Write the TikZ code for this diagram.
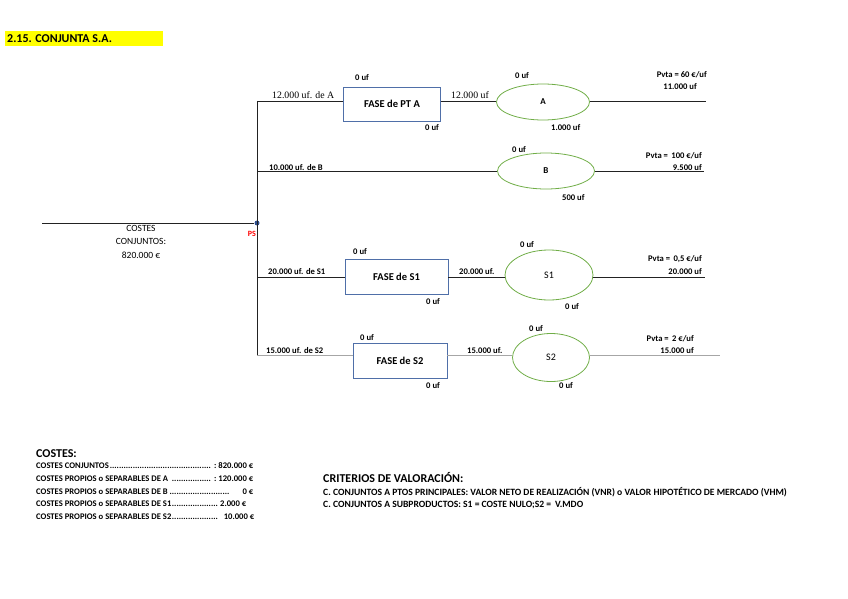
\documentclass[tikz,border=0pt]{standalone}
\usepackage{fontspec}
\setmainfont{Carlito}
\newfontfamily\serifo{Liberation Serif}
\usepackage{xcolor}
\usetikzlibrary{positioning,shapes.geometric}
\definecolor{boxc}{HTML}{4F6FA8}
\definecolor{ovalc}{HTML}{70AD47}
\definecolor{dotc}{HTML}{2F4F8F}
\definecolor{ttlbg}{HTML}{FFFF00}
\definecolor{lnc}{HTML}{222222}
\definecolor{lgray}{HTML}{A6A6A6}
\newcommand\ufsz{\fontsize{8.6}{10}\selectfont\bfseries}
\newcommand\fasesz{\fontsize{10.5}{12}\selectfont\bfseries}
\newcommand\hdsz{\fontsize{12}{14}\selectfont\bfseries}
\newcommand\dl{\leaders\hbox to 2.3pt{\hss.\hss}\hfill}
\tikzset{
  ln/.style={lnc,line width=0.6pt},
  fase/.style={draw=boxc,thick,minimum width=97pt,minimum height=34pt,inner sep=0pt,font=\fasesz},
  prod/.style={ellipse,draw=ovalc,thick,inner sep=0pt,font=\fontsize{10}{12}\selectfont},
  lbl/.style={font=\ufsz,inner sep=0pt,anchor=base west},
  rlbl/.style={font=\ufsz,inner sep=0pt,anchor=base east},
  crit/.style={font=\fontsize{9.6}{11}\selectfont\bfseries,inner sep=0pt,anchor=base west},
  slbl/.style={font=\serifo\fontsize{9.8}{11}\selectfont,inner sep=0pt,anchor=base west}
}
\begin{document}
\begin{tikzpicture}[x=1pt,y=-1pt]
\useasboundingbox (0,0) rectangle (848,599);
% title
\fill[ttlbg] (5,31) rectangle (163,46);
\node[anchor=west,font=\hdsz,inner sep=0pt] (ttl) at (7,39) {2.15. CONJUNTA S.A.};
% joint costs and split-off point
\coordinate (lft) at (42,223);
\node[circle,fill=dotc,inner sep=0pt,minimum size=5pt] (ps) at (257,223) {};
\node[font=\fontsize{8}{9}\selectfont\bfseries,text=red,anchor=base east,inner sep=0pt] (pst) at (256,236) {PS};
\draw[ln] (lft) -- (ps);
\node[font=\fontsize{9.5}{13.5}\selectfont,align=center,anchor=north,inner sep=0pt] (cc) at (141,225) {COSTES\\CONJUNTOS:\\820.000 €};
\coordinate (ja) at (257,101);
\coordinate (jb) at (257,171);
\coordinate (js1) at (257,277);
\coordinate (js2) at (257,355);
\draw[ln] (ja) -- (js2);
% row A
\node[fase] (fa) at (392,104) {FASE de PT A};
\node[prod,minimum width=93pt,minimum height=36pt,font=\fontsize{9}{10}\selectfont\bfseries] (oa) at (543,102) {A};
\coordinate (ea) at (706,101);
\draw[ln] (ja) -- (ja -| fa.west);
\draw[ln] (fa.east |- ja) -- (oa.west |- ja);
\draw[ln] (oa.east |- ja) -- (ea);
\node[slbl] at (272,98.5) {12.000 uf. de A};
\node[slbl] at (451,98.5) {12.000 uf};
\node[lbl] at (355,81) {0 uf};
\node[lbl] at (425,131) {0 uf};
\node[lbl] at (515,79) {0 uf};
\node[lbl] at (551,131) {1.000 uf};
\node[rlbl] at (707,78) {Pvta = 60 €/uf};
\node[rlbl] at (697,90) {11.000 uf};
% row B
\node[prod,minimum width=97pt,minimum height=36pt,font=\fontsize{9}{10}\selectfont\bfseries] (ob) at (546,171) {B};
\coordinate (eb) at (704,171);
\draw[ln] (jb) -- (ob.west);
\draw[ln] (ob.east) -- (eb);
\node[lbl] at (269,170) {10.000 uf. de B};
\node[lbl] at (512,153) {0 uf};
\node[lbl] at (562,200) {500 uf};
\node[rlbl] at (702,158) {Pvta =\, 100 €/uf};
\node[rlbl] at (702,170) {9.500 uf};
% row S1
\node[fase,minimum width=103pt,minimum height=35pt] (fs1) at (396.5,276.5) {FASE de S1};
\node[prod,minimum width=88pt,minimum height=50pt] (os1) at (549,275) {S1};
\coordinate (es1) at (705,277);
\draw[ln] (js1) -- (js1 -| fs1.west);
\draw[ln] (fs1.east |- js1) -- (os1.west |- js1);
\draw[ln] (os1.east |- js1) -- (es1);
\node[lbl] at (268,274) {20.000 uf. de S1};
\node[lbl] at (459,274) {20.000 uf.};
\node[lbl] at (353,254) {0 uf};
\node[lbl] at (426,304) {0 uf};
\node[lbl] at (520,247) {0 uf};
\node[lbl] at (565,309) {0 uf};
\node[rlbl] at (702,261) {Pvta =\, 0,5 €/uf};
\node[rlbl] at (702,274) {20.000 uf};
% row S2
\node[fase,minimum width=94pt,minimum height=35pt] (fs2) at (400,360.5) {FASE de S2};
\node[prod,minimum width=77pt,minimum height=48pt] (os2) at (551,357.5) {S2};
\coordinate (es2) at (720,355);
\draw[lgray,line width=0.6pt] (js2) -- (js2 -| fs2.west);
\draw[lgray,line width=0.6pt] (fs2.east |- js2) -- (os2.west |- js2);
\draw[lgray,line width=0.6pt] (os2.east |- js2) -- (es2);
\node[lbl] at (266,353) {15.000 uf. de S2};
\node[lbl] at (467,353) {15.000 uf.};
\node[lbl] at (360,340) {0 uf};
\node[lbl] at (426,388) {0 uf};
\node[lbl] at (529,331) {0 uf};
\node[lbl] at (559,388) {0 uf};
\node[rlbl] at (694,341) {Pvta =\, 2 €/uf};
\node[rlbl] at (694,353) {15.000 uf};
% costs
\node[anchor=base west,font=\hdsz,inner sep=0pt] (cst) at (36,457) {COSTES:};
\node[lbl] at (36,468) {\hbox to 217pt{COSTES CONJUNTOS\dl\,: 820.000 €}};
\node[lbl] at (36,481) {\hbox to 217pt{COSTES PROPIOS o SEPARABLES DE A \dl\,: 120.000 €}};
\node[lbl] at (36,494) {\hbox to 217pt{COSTES PROPIOS o SEPARABLES DE B\dl\hspace{12pt}0 €}};
\node[lbl] at (36,506) {\hbox to 210pt{COSTES PROPIOS o SEPARABLES DE S1\dl 2.000 €}};
\node[lbl] at (36,519) {\hbox to 218pt{COSTES PROPIOS o SEPARABLES DE S2\dl\hspace{4pt}10.000 €}};
% criteria
\node[anchor=base west,font=\hdsz,inner sep=0pt] (crt) at (323,482) {CRITERIOS DE VALORACIÓN:};
\node[crit] at (323,495) {C. CONJUNTOS A PTOS PRINCIPALES: VALOR NETO DE REALIZACIÓN (VNR) o VALOR HIPOTÉTICO DE MERCADO (VHM)};
\node[crit] at (323,507.5) {C. CONJUNTOS A SUBPRODUCTOS: S1 = COSTE NULO;S2 =\, V.MDO};
\end{tikzpicture}
\end{document}
